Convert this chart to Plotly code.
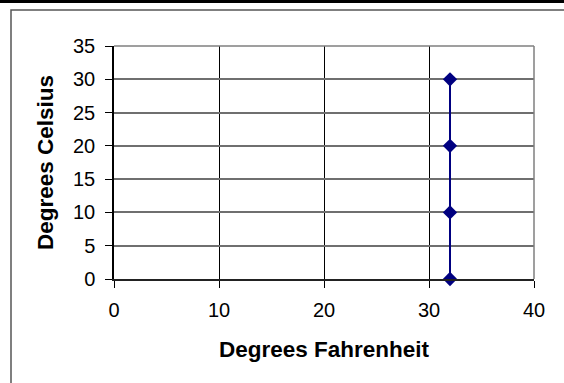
import plotly.graph_objects as go

# Data
fahrenheit = [32, 32, 32, 32]
celsius = [0, 10, 20, 30]
x_ticks = [0, 10, 20, 30, 40]
y_ticks = [0, 5, 10, 15, 20, 25, 30, 35]
x_title = "Degrees Fahrenheit"
y_title = "Degrees Celsius"

W, H = 564, 383
L, R, T, B = 114, 30, 46, 104
pw, ph = W - L - R, H - T - B

def px(xp):
    return (xp - L) / pw

def py(yp):
    return (H - B - yp) / ph

fig = go.Figure()
fig.add_trace(go.Scatter(
    x=fahrenheit, y=celsius, mode="lines+markers",
    line=dict(color="#000080", width=2),
    marker=dict(symbol="diamond", size=11, color="#000080"),
    showlegend=False, cliponaxis=False,
))

font = dict(family="Liberation Sans, Arial, sans-serif", size=20, color="black")
title_font = dict(family="Liberation Sans, Arial, sans-serif", size=22.5, color="black", weight="bold")

fig.update_layout(
    width=W, height=H,
    margin=dict(l=L, r=R, t=T, b=B),
    paper_bgcolor="white", plot_bgcolor="white",
    xaxis=dict(
        range=[0, 40], tickvals=x_ticks, ticktext=[str(v) for v in x_ticks],
        showgrid=True, gridcolor="black", gridwidth=1,
        zeroline=False, showline=True, linecolor="#222", linewidth=1.5,
        ticks="outside", ticklen=7, tickcolor="black", tickwidth=1,
        tickfont=font, ticklabelstandoff=5,
        title=dict(text=x_title, font=title_font, standoff=21),
        automargin=False, fixedrange=True,
    ),
    yaxis=dict(
        range=[0, 35], tickvals=y_ticks, ticktext=[str(v) for v in y_ticks],
        showgrid=True, gridcolor="#6f6f6f", gridwidth=1.5,
        zeroline=False, showline=True, linecolor="black", linewidth=1.5,
        ticks="outside", ticklen=7, tickcolor="black", tickwidth=1,
        tickfont=font, ticklabelstandoff=6,
        title=dict(text=y_title, font=title_font, standoff=13),
        automargin=False, fixedrange=True,
    ),
    shapes=[
        # outer chart border (extends beyond the window on right/bottom)
        dict(type="rect", xref="paper", yref="paper",
             x0=px(11), x1=px(W + 20), y0=py(H + 20), y1=py(10),
             line=dict(color="#555", width=1.5), layer="below"),
        # black band at the top
        dict(type="rect", xref="paper", yref="paper",
             x0=px(-5), x1=px(W + 5), y0=py(3), y1=py(-5),
             fillcolor="black", line=dict(width=0)),
        # top and right plot area borders
        dict(type="line", xref="paper", yref="paper", x0=0, x1=1, y0=1, y1=1,
             line=dict(color="#7f7f7f", width=1.5)),
        dict(type="line", xref="paper", yref="paper", x0=1, x1=1, y0=0, y1=1,
             line=dict(color="#7f7f7f", width=1.5)),
    ],
)

fig.write_html("out.html")
